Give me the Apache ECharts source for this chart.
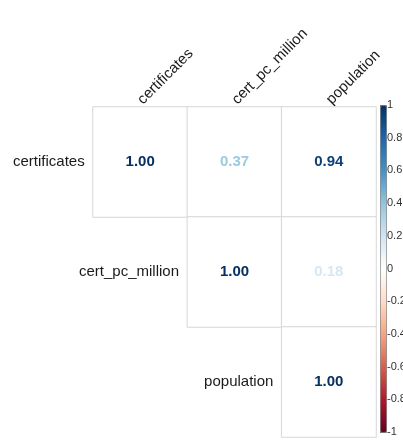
<!DOCTYPE html>
<html>
<head>
<meta charset="utf-8">
<script src="https://cdn.jsdelivr.net/npm/echarts@6/dist/echarts.min.js"></script>
<style>
  html, body { margin: 0; padding: 0; background: #fff; overflow: hidden; }
  #chart { width: 420px; height: 441px; }
</style>
</head>
<body>
<div id="chart"></div>
<script>
// Variables of the correlation matrix (rows and columns share the same order)
const variables = ['certificates', 'cert_pc_million', 'population'];

// Upper-triangle correlations: [column index, row index, r]
const corrValues = [
  [0, 0, 1.00],
  [1, 0, 0.37],
  [2, 0, 0.94],
  [1, 1, 1.00],
  [2, 1, 0.18],
  [2, 2, 1.00]
];

// Diagonal positions where the row names are written
const diagonal = [[0, 0], [1, 1], [2, 2]];

// Diverging red-blue palette, evenly spaced from -1 to 1
const palette = ['#67001F', '#B2182B', '#D6604D', '#F4A582', '#FDDBC7', '#FFFFFF',
                 '#D1E5F0', '#92C5DE', '#4393C3', '#2166AC', '#053061'];

// Colour bar range and tick step
const scaleMin = -1, scaleMax = 1, scaleStep = 0.2;

const FONT = 'Liberation Sans, Arial, sans-serif';

function hexToRgb(h) {
  return [parseInt(h.slice(1, 3), 16), parseInt(h.slice(3, 5), 16), parseInt(h.slice(5, 7), 16)];
}
function colorFor(v) {
  const pos = (v - scaleMin) / (scaleMax - scaleMin) * (palette.length - 1);
  const i = Math.max(0, Math.min(palette.length - 2, Math.floor(pos)));
  const t = pos - i;
  const a = hexToRgb(palette[i]), b = hexToRgb(palette[i + 1]);
  const c = a.map((x, k) => Math.round(x + (b[k] - x) * t));
  return 'rgb(' + c.join(',') + ')';
}

const chart = echarts.init(document.getElementById('chart'));

chart.setOption({
  backgroundColor: '#fff',
  animation: false,
  grid: [
    { left: 93, width: 283, top: 107, height: 330 },
    { left: 380, width: 6, top: 105, height: 327 }
  ],
  xAxis: [
    {
      type: 'category', data: variables, position: 'top', gridIndex: 0,
      axisLine: { show: false }, axisTick: { show: false }, splitLine: { show: false },
      axisLabel: { rotate: -45, margin: 5, color: '#1a1a1a', fontSize: 15, fontFamily: FONT, interval: 0 }
    },
    { type: 'value', gridIndex: 1, show: false, min: 0, max: 1 }
  ],
  yAxis: [
    {
      type: 'category', data: variables, inverse: true, gridIndex: 0,
      axisLine: { show: false }, axisTick: { show: false }, axisLabel: { show: false },
      splitLine: { show: false }
    },
    {
      type: 'value', gridIndex: 1, position: 'right',
      min: scaleMin, max: scaleMax, interval: scaleStep,
      axisLine: { show: false }, splitLine: { show: false },
      axisTick: { show: true, length: 2, lineStyle: { color: '#666' } },
      axisLabel: {
        margin: 1, color: '#333', fontSize: 11, fontFamily: FONT,
        formatter: v => String(Math.round(v * 10) / 10)
      }
    }
  ],
  visualMap: {
    type: 'continuous',
    min: scaleMin, max: scaleMax,
    seriesIndex: 2,
    orient: 'vertical',
    left: 380, top: 105,
    itemWidth: 6, itemHeight: 327,
    padding: 0,
    text: null,
    showLabel: false,
    calculable: false,
    borderColor: '#777', borderWidth: 1,
    inRange: { color: palette }
  },
  series: [
    {
      type: 'heatmap',
      xAxisIndex: 0, yAxisIndex: 0,
      data: corrValues.map(d => ({
        value: d,
        itemStyle: { color: '#fff', borderColor: '#d6d6d6', borderWidth: 1 },
        label: { color: colorFor(d[2]) }
      })),
      label: {
        show: true, fontSize: 15, fontWeight: 'bold', fontFamily: FONT,
        formatter: p => p.value[2].toFixed(2)
      },
      emphasis: { disabled: true }
    },
    {
      type: 'scatter',
      xAxisIndex: 0, yAxisIndex: 0,
      data: diagonal,
      symbolSize: 1,
      itemStyle: { color: 'rgba(0,0,0,0)', opacity: 1 },
      label: {
        show: true, position: 'left', distance: 55,
        color: '#1a1a1a', fontSize: 15, fontFamily: FONT,
        formatter: p => variables[p.dataIndex]
      },
      emphasis: { disabled: true },
      silent: true
    },
    {
      type: 'heatmap',
      xAxisIndex: 1, yAxisIndex: 1,
      data: []
    }
  ]
});
</script>
</body>
</html>
